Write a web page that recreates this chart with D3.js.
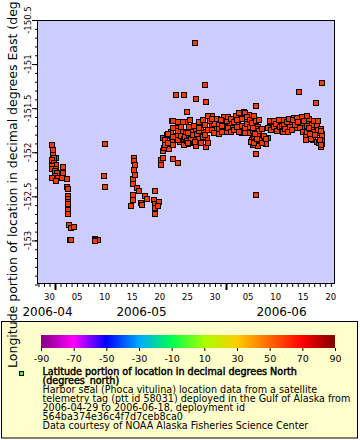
<!DOCTYPE html>
<html><head><meta charset="utf-8">
<script src="https://cdn.jsdelivr.net/npm/d3@7"></script>
<style>body{margin:0;background:#fff}svg{display:block}text{font-family:"DejaVu Sans",sans-serif}</style>
</head><body><svg id="c" width="360" height="440"></svg>
<script>
// time values are days since 2006-05-01T00:00Z, longitude in degrees East
const baseDate = Date.UTC(2006, 4, 1);
const observations = [
 [-0.54,-151.92],[-0.36,-151.97],[-0.31,-152.03],[0.13,-152.06],[-0.18,-152.07],[-0.6,-152.09],[-0.18,-152.12],[0.18,-152.14],[-0.54,-152.16],[-0.6,-152.19],[0.18,-152.19],[0,-152.21],[0.31,-152.24],[0,-152.27],[-0.6,-152.29],[0.6,-152.29],[0.18,-152.33],
 [1.4,-152.17],[1.4,-152.24],[1.32,-152.29],[2.12,-152.30],[2.23,-152.39],[2.3,-152.42],[2.3,-152.50],[2.3,-152.53],[2.36,-152.56],[2.36,-152.59],[2.41,-152.64],[2.41,-152.66],[2.41,-152.70],[2.54,-152.82],[2.85,-152.86],[3.39,-152.85],[2.72,-152.99],[2.96,-152.99],
 [7.25,-152.98],[7.43,-152.99],[7.61,-153.0],[7.8,-152.99],[7.34,-153.01],
 [8.88,-152.27],[9.06,-152.39],[9.06,-151.91],
 [13.78,-152.61],[14.09,-152.36],[14.09,-152.48],[14.14,-152.54],[14.2,-152.30],[14.32,-152.07],[14.38,-152.10],[14.5,-152.14],[14.32,-152.20],[14.5,-152.26],[14.87,-152.40],[15.23,-152.44],[15.54,-152.58],[15.72,-152.60],[16.26,-152.50],[16.68,-152.53],[17.95,-152.54],[18.13,-152.44],[18.13,-152.59],[18.13,-152.63],[18.13,-152.70],[18.85,-152.56],[18.73,-152.61],
 [19.18,-152.14],[19.24,-152.09],[19.55,-152.06],[19.66,-151.99],[19.79,-151.95],[20.68,-151.96],[21.34,-152.08],[22.3,-152.12],[19.94,-151.84],[20.25,-151.82],[21.27,-151.64],[21.94,-151.72],
 [19.63,-151.84],[20.25,-151.80],[20.98,-151.77],[21.16,-151.86],[22.17,-151.82],[22.66,-151.88],[23.26,-151.77],[23.75,-151.66],[24.35,-151.71],[24.17,-151.91],[24.78,-151.77],[25.38,-151.84],[25.98,-151.73],[26.29,-151.80],[26.89,-151.77],[27.38,-151.94],[27.61,-151.84],[28.10,-151.61],[28.41,-151.69],[29.01,-151.63],[29.31,-151.73],[29.79,-151.69],[30.64,-151.60],[30.82,-151.71],[31.00,-151.77],[31.73,-151.67],[32.32,-151.73],[32.81,-151.59],[33.23,-151.69],[33.85,-151.78],[34.26,-151.54],[34.75,-151.65],[35.22,-151.58],[35.66,-151.74],[35.84,-151.82],[36.26,-151.91],[36.57,-151.78],[36.86,-151.71],[37.35,-151.84],[37.76,-151.88],[38.2,-151.91],[38.56,-151.84],[38.98,-151.71],[39.47,-151.67],[39.88,-151.75],[40.48,-151.69],[41.1,-151.65],[41.39,-151.77],[42.0,-151.71],[42.91,-151.67],[43.33,-151.61],[43.82,-151.73],[44.29,-151.61],[44.72,-151.69],[45.32,-151.73],[45.63,-151.59],[45.92,-151.67],[46.54,-151.75],[46.23,-151.82],[46.83,-151.86],[47.44,-151.88],[48.04,-151.78],[48.35,-151.84],[48.35,-151.91],
 [19.94,-151.86],[19.94,-151.92],[20.49,-151.79],[20.49,-151.90],[21.39,-151.72],[21.39,-151.83],[21.39,-151.92],[22.3,-151.66],[22.3,-151.76],[22.3,-151.86],[22.84,-151.71],[22.84,-151.82],[23.39,-151.85],[23.39,-151.92],[23.75,-151.78],[23.75,-151.86],[24.47,-151.63],[24.47,-151.84],[24.84,-151.80],[24.84,-151.87],[25.2,-151.70],[25.2,-151.89],[25.56,-151.76],[25.56,-151.86],[25.56,-151.93],[26.11,-151.66],[26.11,-151.84],[26.47,-151.73],[26.47,-151.89],[26.83,-151.63],[26.83,-151.83],[27.2,-151.69],[27.2,-151.80],[27.74,-151.75],[27.74,-151.89],[28.46,-151.59],[28.46,-151.75],[28.83,-151.68],[28.83,-151.78],[29.37,-151.62],[29.73,-151.74],[29.73,-151.79],[30.09,-151.63],[30.28,-151.70],[30.28,-151.77],[31.18,-151.65],[31.36,-151.60],[31.36,-151.72],[31.91,-151.62],[31.91,-151.77],[32.45,-151.66],[32.45,-151.75],[33.0,-151.71],[33.0,-151.63],[33.36,-151.55],[33.36,-151.77],[33.9,-151.62],[33.9,-151.70],[34.45,-151.56],[34.45,-151.72],[34.45,-151.78],[34.81,-151.60],[34.81,-151.68],[35.35,-151.63],[35.35,-151.71],[35.35,-151.78],[35.72,-151.67],[35.72,-151.86],[35.9,-151.76],[35.9,-151.92],[36.08,-151.59],[36.08,-151.83],[36.44,-151.65],[36.44,-151.74],[36.44,-151.87],[36.8,-151.80],[36.8,-151.93],[36.98,-151.63],[36.98,-151.76],[37.17,-151.86],[37.53,-151.74],[37.53,-151.89],[37.89,-151.82],[38.25,-151.85],[38.61,-151.73],[38.98,-151.64],[39.16,-151.75],[39.7,-151.64],[39.7,-151.71],[40.07,-151.68],[40.25,-151.76],[40.61,-151.63],[40.79,-151.71],[41.15,-151.70],[41.52,-151.63],[41.52,-151.69],[41.7,-151.74],[42.06,-151.66],[42.24,-151.77],[42.42,-151.62],[42.6,-151.71],[42.97,-151.75],[43.15,-151.63],[43.51,-151.69],[43.87,-151.61],[44.05,-151.66],[44.42,-151.73],[44.78,-151.60],[44.96,-151.77],[45.14,-151.65],[45.5,-151.80],[45.5,-151.86],[45.69,-151.70],[46.05,-151.77],[46.05,-151.62],[46.41,-151.85],[46.59,-151.69],[46.96,-151.64],[46.96,-151.77],[47.14,-151.81],[47.5,-151.70],[47.68,-151.75],[47.86,-151.90],[48.22,-151.74],[48.22,-151.94],[48.4,-151.79],[48.4,-151.87],
 [23.57,-151.83],[23.93,-151.87],[24.29,-151.80],[24.66,-151.85],[25.02,-151.81],[25.38,-151.88],[25.74,-151.79],[26.11,-151.76],[24.11,-151.78],[35.53,-151.88],[36.08,-151.89],[36.62,-151.85],[36.26,-151.79],[35.9,-151.72],[27.74,-151.59],[28.10,-151.65],[28.46,-151.62],[45.69,-151.77],[46.05,-151.72],[46.23,-151.79],[48.22,-151.76],[48.4,-151.82],[48.22,-151.92],[48.04,-151.86],
 [23.88,-151.54],[23.26,-151.66],[24.17,-151.90],[26.11,-151.73],
 [25.38,-150.76],[27.19,-151.24],[21.94,-151.35],[23.39,-151.35],[25.56,-151.40],[27.38,-151.43],[36.38,-151.47],[48.35,-151.21],[44.18,-151.32],[47.26,-151.44],[21.34,-151.64],[47.62,-151.65],[45.63,-151.59],[36.38,-152.02],[21.34,-152.08],[36.38,-152.48]
];
const latitudeApprox = 58.5;
const xDomain = ["2006-04-27T22:00:00Z", "2006-06-20T18:15:00Z"];
const yDomain = [-153.5, -150.5];
const yLabelTicks = [-153, -152.5, -152, -151.5, -151, -150.5];
const xLabelDays = [5, 10, 15, 20, 25, 30];
const colorStopValues = [-90, -70, -50, -30, -10, 10, 30, 50, 70, 90];
const colorStopColors = ["#800080", "#ff00ff", "#0000ff", "#00a8ff", "#00ff50", "#a8ff00", "#ffcc00", "#ff6600", "#ff0000", "#800000"];
const colorbarTicks = [-90, -70, -50, -30, -10, 10, 30, 50, 70, 90];
const yTitle = "Longitude portion of location in decimal degrees East (degrees_east)";
const legendBold = ["Latitude portion of location in decimal degrees North", "(degrees_north)"];
const legendLines = ["Harbor seal (Phoca vitulina) location data from a satellite",
  "telemetry tag (ptt id 58031) deployed in the Gulf of Alaska from",
  "2006-04-29 to 2006-06-18, deployment id",
  "564ba374e36c4f7d7ceb8ca0",
  "Data courtesy of NOAA Alaska Fisheries Science Center"];

const svg = d3.select("#c");
const L = 38, R = 335, T = 20, B = 284.5;
const x = d3.scaleUtc().domain(xDomain.map(d => new Date(d))).range([L, R]);
const y = d3.scaleLinear().domain(yDomain).range([B, T]);
const color = d3.scaleLinear().domain(colorStopValues).range(colorStopColors).interpolate(d3.interpolateRgb);

svg.append("rect").attr("x", L).attr("y", T).attr("width", R - L).attr("height", 264).attr("fill", "#ccccff");

// y axis minor & major ticks
const gyMinor = svg.append("g").attr("transform", `translate(${L},0)`)
  .call(d3.axisLeft(y).ticks(30).tickSize(3).tickFormat(""));
gyMinor.select(".domain").remove();
const gyMajor = svg.append("g").attr("transform", `translate(${L},0)`)
  .call(d3.axisLeft(y).tickValues(yLabelTicks).tickSize(6).tickFormat(""));
gyMajor.select(".domain").remove();
svg.append("g").selectAll("text").data(yLabelTicks).join("text")
  .attr("transform", d => `translate(30.5,${y(d)}) rotate(-90)`)
  .attr("text-anchor", "middle").attr("font-size", 8.5).text(d => String(d));

// x axis
const gxMinor = svg.append("g").attr("transform", `translate(0,284)`)
  .call(d3.axisBottom(x).ticks(d3.utcDay.every(1)).tickSize(3).tickFormat(""));
gxMinor.select(".domain").remove();
const gxMonth = svg.append("g").attr("transform", `translate(0,284)`)
  .call(d3.axisBottom(x).ticks(d3.utcMonth.every(1)).tickSize(6).tickFormat(""));
gxMonth.select(".domain").remove();
gxMonth.selectAll("line").attr("stroke-width", 2);
const labelDays = x.ticks(d3.utcDay.every(1)).filter(d => xLabelDays.includes(d.getUTCDate()));
svg.append("g").selectAll("text").data(labelDays).join("text")
  .attr("x", d => x(d)).attr("y", 300).attr("text-anchor", "middle").attr("font-size", 8.5)
  .text(d3.utcFormat("%d"));
const [d0, d1] = x.domain();
const months = d3.utcMonth.range(d3.utcMonth.floor(d0), d1);
svg.append("g").selectAll("text").data(months).join("text")
  .attr("x", m => (x(m < d0 ? d0 : m) + x(d3.utcMonth.offset(m, 1) > d1 ? d1 : d3.utcMonth.offset(m, 1))) / 2 + 1)
  .attr("y", 316).attr("text-anchor", "middle").attr("font-size", 12)
  .text(d3.utcFormat("%Y-%m"));

// markers
const fill = color(latitudeApprox);
svg.append("g").selectAll("rect").data(observations).join("rect")
  .attr("x", d => Math.round(x(new Date(baseDate + d[0] * 864e5))) - 2.5)
  .attr("y", d => Math.round(y(d[1])) - 2.5)
  .attr("width", 5).attr("height", 5)
  .attr("fill", fill).attr("stroke", "#000").attr("stroke-width", 1);

// frame
svg.append("rect").attr("x", L - 0.5).attr("y", T + 0.5).attr("width", R - L).attr("height", 263)
  .attr("fill", "none").attr("stroke", "#000");

// legend
svg.append("rect").attr("x", 1.5).attr("y", 321.5).attr("width", 356).attr("height", 116.5)
  .attr("fill", "#ffffcc").attr("stroke", "#000");
const cb = d3.scaleLinear().domain([-90, 90]).range([41, 335]);
const grad = svg.append("defs").append("linearGradient").attr("id", "cbg");
grad.selectAll("stop").data(colorStopValues).join("stop")
  .attr("offset", d => (d + 90) / 180).attr("stop-color", (d, i) => colorStopColors[i]);
svg.append("rect").attr("x", cb(-90)).attr("y", 335).attr("width", cb(90) - cb(-90)).attr("height", 13)
  .attr("fill", "url(#cbg)");
const gcb = svg.append("g").attr("transform", "translate(0,348)")
  .call(d3.axisBottom(cb).tickValues(colorbarTicks).tickSize(3).tickFormat(d => String(d)));
gcb.select(".domain").remove();
gcb.selectAll("text").attr("font-size", 9.5).attr("font-family", "DejaVu Sans").attr("fill", "#000").attr("dy", 0).attr("y", 14);

svg.append("rect").attr("x", 19.5).attr("y", 371.5).attr("width", 4).attr("height", 4)
  .attr("fill", "#44ff44").attr("stroke", "#000");
const lineStep = 9;
svg.append("g").selectAll("text").data(legendBold).join("text")
  .attr("x", 42.5).attr("y", (d, i) => 375 + i * lineStep).attr("font-size", 9.6)
  .attr("stroke", "#000").attr("stroke-width", 0.45).text(d => d);
svg.append("g").selectAll("text").data(legendLines).join("text")
  .attr("x", 42.5).attr("y", (d, i) => 375 + (i + 2) * lineStep).attr("font-size", 9.6).text(d => d);

// y title (drawn last, overlaps legend)
svg.append("text").attr("transform", `translate(17,${(T + B) / 2}) rotate(-90)`)
  .attr("text-anchor", "middle").attr("font-size", 12.5).text(yTitle);
</script></body></html>
